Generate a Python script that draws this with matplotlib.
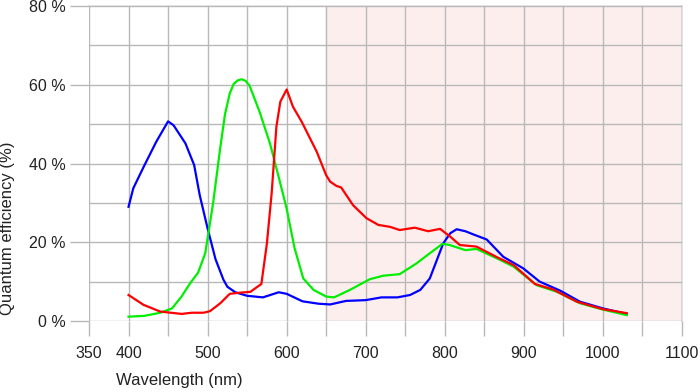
import matplotlib.pyplot as plt

# values (wavelength nm, quantum efficiency %)
blue_wl = [400, 406, 420, 435, 450, 457, 472, 483, 490, 500, 510, 520, 525, 535, 550,
           570, 590, 600, 620, 640, 655, 675, 700, 720, 740, 756, 769, 781, 790, 798,
           807, 815, 826, 836, 853, 874, 899, 920, 946, 971, 1000, 1030]
blue_qe = [29.0, 33.7, 39.5, 45.5, 50.7, 49.7, 45.1, 39.6, 32.0, 23.5, 15.7, 10.5, 8.7,
           7.3, 6.4, 6.0, 7.3, 6.9, 5.0, 4.4, 4.2, 5.1, 5.3, 6.0, 6.0, 6.6, 7.9, 10.8,
           15.5, 19.7, 22.3, 23.3, 22.8, 22.0, 20.7, 16.3, 13.4, 10.0, 7.7, 4.9, 3.2, 1.8]

green_wl = [400, 420, 440, 455, 467, 478, 488, 497, 507, 516, 522, 528, 533, 538, 543,
            548, 553, 566, 579, 590, 600, 610, 621, 634, 650, 660, 680, 705, 722, 743,
            764, 781, 797, 806, 826, 840, 866, 887, 916, 942, 971, 1000, 1030]
green_qe = [1.1, 1.3, 2.1, 3.2, 6.2, 9.6, 12.3, 17.2, 30.0, 44.0, 52.5, 57.8, 60.2, 61.1,
            61.4, 61.0, 59.8, 53.0, 45.0, 36.5, 28.5, 18.5, 10.8, 7.9, 6.2, 6.0, 7.9,
            10.6, 11.5, 11.9, 14.6, 17.2, 19.6, 19.3, 18.0, 18.3, 15.9, 13.8, 9.1, 7.4,
            4.5, 2.9, 1.5]

red_wl = [400, 419, 440, 467, 480, 495, 503, 516, 528, 541, 554, 568, 575, 581, 587,
          592, 600, 608, 619, 638, 650, 655, 663, 669, 684, 701, 716, 731, 743, 762,
          779, 794, 807, 819, 840, 866, 887, 914, 937, 967, 1000, 1030]
red_qe = [6.6, 4.1, 2.4, 1.8, 2.1, 2.1, 2.5, 4.5, 6.9, 7.2, 7.4, 9.4, 19.7, 32.4, 49.3,
          55.7, 58.8, 54.4, 50.6, 43.0, 37.0, 35.4, 34.3, 33.9, 29.4, 26.1, 24.4, 23.9,
          23.1, 23.7, 22.8, 23.4, 21.4, 19.3, 18.9, 16.2, 14.2, 9.4, 8.0, 4.9, 3.0, 2.0]

x_ticks = list(range(350, 1101, 50))
x_labels = ['350', '400', '500', '600', '700', '800', '900', '1000', '1100']
y_ticks = [0, 20, 40, 60, 80]

plt.rcParams['font.family'] = ['Liberation Sans', 'DejaVu Sans']

fig = plt.figure(figsize=(7, 3.92), dpi=100)
ax = fig.add_axes([89 / 700, 71 / 392, 593 / 700, 315 / 392])

ax.axvspan(650, 1100, color='#fdeeee', zorder=0)

grid_c = '#b8b8b8'
ax.set_xlim(350, 1100)
ax.set_ylim(0, 80)
ax.set_xticks(x_ticks)
ax.set_xticklabels([str(t) if str(t) in x_labels else '' for t in x_ticks])
ax.set_yticks(y_ticks)
ax.set_yticklabels(['%d %%' % t for t in y_ticks])
ax.set_yticks(range(10, 80, 20), minor=True)
ax.grid(True, which='both', color=grid_c, lw=1.0, zorder=1)
ax.tick_params(axis='x', length=11, width=1.0, color=grid_c, pad=7, labelsize=11.5,
               labelcolor='#222222')
ax.tick_params(axis='y', which='major', length=14, width=1.0, color=grid_c, pad=3,
               labelsize=11.5, labelcolor='#222222')
ax.tick_params(axis='y', which='minor', length=0)
for s in ax.spines.values():
    s.set_visible(False)
ax.axhline(80, color='#dddddd', lw=1.2, zorder=1, clip_on=False)
ax.axvline(1100, color='#dddddd', lw=1.2, zorder=1, clip_on=False)

ax.plot(blue_wl, blue_qe, color='#0000ff', lw=1.6, zorder=3)
ax.plot(green_wl, green_qe, color='#00ee00', lw=1.6, zorder=3)
ax.plot(red_wl, red_qe, color='#ff0000', lw=1.6, zorder=4)

fig.text(179 / 700, 1 - 380 / 392, 'Wavelength (nm)', ha='center', va='center',
         fontsize=12, color='#222222')
fig.text(8 / 700, 1 - 228 / 392, 'Quantum efficiency (%)', ha='center', va='center',
         rotation=90, fontsize=12, color='#222222')

fig.savefig('out.png', dpi=100)
plt.close()
